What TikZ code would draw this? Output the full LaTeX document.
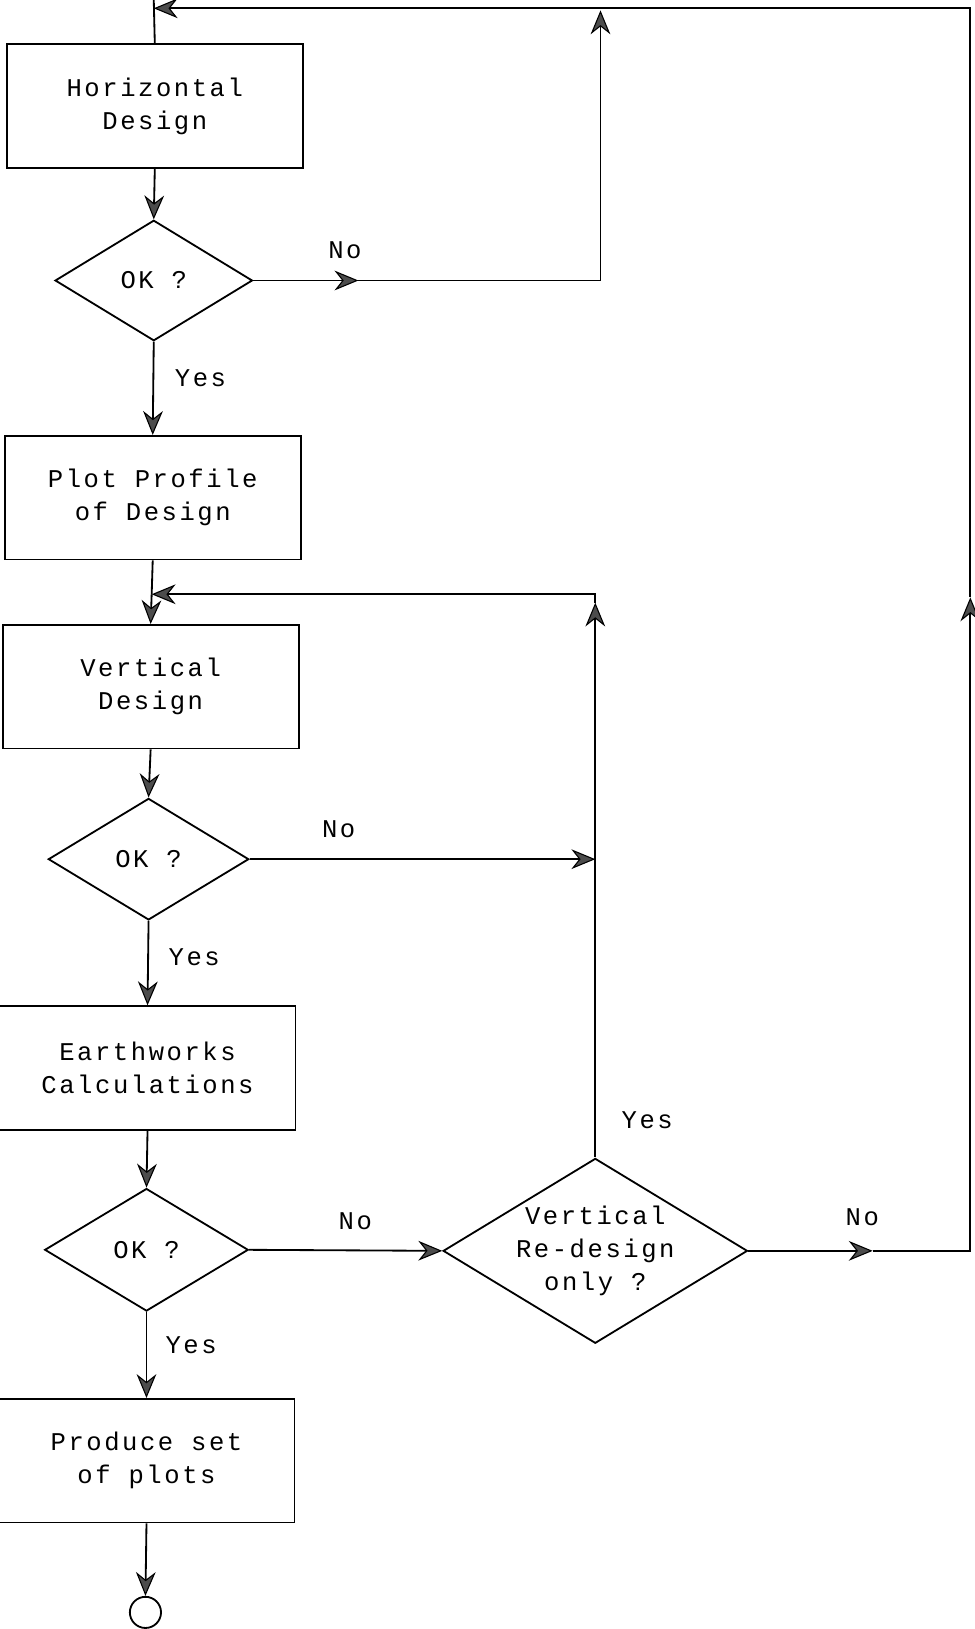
\documentclass[tikz,border=0pt]{standalone}
\usepackage{fontspec}
\newfontfamily\typefont[LetterSpace=10]{Liberation Mono}
\usetikzlibrary{shapes.geometric,arrows.meta}
\tikzset{
  >={Stealth[length=4.6mm,width=3.8mm,inset=1.5mm,fill=gray!60!black,line width=0.6pt]},
  txt/.style={font={\typefont\fontsize{14}{18}\selectfont}},
  process/.style={draw, txt, line width=1pt, minimum width=5.7cm, minimum height=2.38cm, align=center, inner sep=0pt},
  decision/.style={draw, txt, shape=diamond, line width=1pt, inner sep=0pt, align=center},
  flow/.style={->, line width=1pt},
  line/.style={line width=1pt}
}
\begin{document}
\begin{tikzpicture}[x=0.02cm,y=-0.02cm]
    \useasboundingbox (0,0) rectangle (938,1568);
    % boxes and questions
    \node[process] (hor) at (149,102) {Horizontal\\Design};
    \node[decision, minimum width=3.8cm, minimum height=2.32cm] (ok1) at (148,270) {OK ?};
    \node[process] (plot) at (147,479) {Plot Profile\\of Design};
    \node[process] (vert) at (145,661) {Vertical\\Design};
    \node[decision, minimum width=3.86cm, minimum height=2.34cm] (ok2) at (143,827) {OK ?};
    \node[process] (earth) at (142,1028) {Earthworks\\Calculations};
    \node[decision, minimum width=3.92cm, minimum height=2.36cm] (ok3) at (141,1203) {OK ?};
    \node[process] (prod) at (141,1406) {Produce set\\of plots};
    \node[decision, minimum width=5.86cm, minimum height=3.56cm] (redo) at (573,1204) {};
    \node[txt, align=center] (redotxt) at (redo) {Vertical\\Re-design\\only ?};
    \node[draw, circle, line width=1pt, minimum size=0.6cm, inner sep=0pt] (stop) at (140,1552) {};
    % corners
    \coordinate (topin) at (148,0);
    \coordinate (topj) at (148,8);
    \coordinate (topr) at (934,8);
    \coordinate (no1) at (345,270);
    \coordinate (no1c) at (578,270);
    \coordinate (no1t) at (578,10);
    \coordinate (vj) at (146,572);
    \coordinate (yesc) at (573,572);
    \coordinate (yesa) at (573,580);
    \coordinate (no2) at (573,827);
    \coordinate (no4) at (840,1204);
    \coordinate (rc) at (934,1204);
    \coordinate (ra) at (934,575);
    % connectors
    \draw[line] (topin)--(hor.north);
    \draw[flow] (hor.south)--(ok1.north);
    \draw[flow] (ok1.east)--(no1);
    \draw[flow] (no1)--(no1c)--(no1t);
    \draw[flow] (ok1.south)--(plot.north);
    \draw[line] (plot.south)--(vj);
    \draw[flow] (vj)--(vert.north);
    \draw[flow] (vert.south)--(ok2.north);
    \draw[flow] (ok2.east)--(no2);
    \draw[flow] (ok2.south)--(earth.north);
    \draw[flow] (earth.south)--(ok3.north);
    \draw[flow] (ok3.east)--(redo.west);
    \draw[flow] (ok3.south)--(prod.north);
    \draw[flow] (prod.south)--(stop.north);
    \draw[flow] (redo.north)--(yesa);
    \draw[flow] (yesa)--(yesc)--(vj);
    \draw[flow] (redo.east)--(no4);
    \draw[flow] (no4)--(rc)--(ra);
    \draw[flow] (ra)--(topr)--(topj);
    % answers
    \node[txt] (l1) at (332,241) {No};
    \node[txt] (l2) at (193,364) {Yes};
    \node[txt] (l3) at (326,798) {No};
    \node[txt] (l4) at (187,921) {Yes};
    \node[txt] (l5) at (342,1175) {No};
    \node[txt] (l6) at (623,1078) {Yes};
    \node[txt] (l7) at (830,1172) {No};
    \node[txt] (l8) at (184,1295) {Yes};
\end{tikzpicture}
\end{document}
